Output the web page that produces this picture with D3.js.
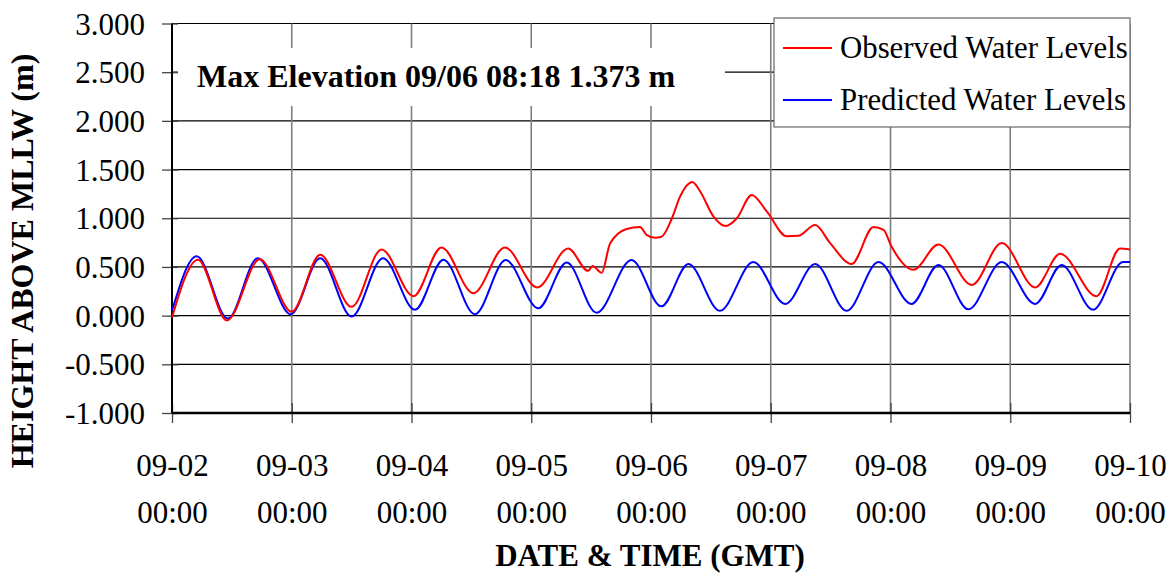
<!DOCTYPE html>
<html lang="en">
<head>
<meta charset="UTF-8">
<title>Water Levels</title>
<script src="https://cdn.jsdelivr.net/npm/d3@7"></script>
<style>
  body { margin: 0; background: #fff; }
  svg { display: block; font-family: "Liberation Serif", "Times New Roman", serif; }
</style>
</head>
<body>
<div id="chart"></div>
<script>
// hours after 09-02 00:00 GMT
const predHours = [0, 4.95, 11.2, 17.2, 23.8, 29.7, 36.0, 42.3, 48.7, 54.4, 60.7, 66.9, 73.4, 79.1, 85.1,
  92.1, 98.1, 103.5, 109.8, 116.5, 122.9, 128.9, 135.2, 141.6, 148.2, 153.6, 159.6, 166.3, 173.0,
  178.3, 184.6, 190.6, 192];
const predLevels = [0.05, 0.61, -0.03, 0.59, 0.015, 0.59, -0.01, 0.59, 0.06, 0.575, 0.015, 0.57, 0.075,
  0.545, 0.03, 0.57, 0.095, 0.53, 0.05, 0.55, 0.12, 0.53, 0.05, 0.55, 0.12, 0.52, 0.065, 0.55, 0.12,
  0.52, 0.06, 0.55, 0.55];

const obsHours = [0, 5.2, 11.0, 17.6, 24.0, 29.7, 36.0, 42.0, 48.4, 54.0, 60.4, 66.7, 73.2, 79.4, 83.4,
  84.3, 86.1, 87.8, 91.1, 93.8, 95.1, 96.8, 98.1, 100.2, 101.8, 104.3, 105.8, 108.5, 111.0, 113.2,
  116.2, 119.2, 123.2, 125.5, 128.9, 131.9, 136.2, 140.6, 142.6, 144.2, 148.6, 153.6, 160.3, 166.3,
  173.0, 178.0, 185.3, 190.0, 192];
const obsLevels = [-0.02, 0.575, -0.05, 0.58, 0.04, 0.625, 0.09, 0.68, 0.2, 0.7, 0.23, 0.7, 0.29, 0.69,
  0.46, 0.51, 0.44, 0.74, 0.89, 0.91, 0.83, 0.8, 0.81, 1.0, 1.22, 1.373, 1.28, 1.02, 0.92, 1.0, 1.24,
  1.07, 0.815, 0.82, 0.93, 0.745, 0.53, 0.91, 0.88, 0.71, 0.47, 0.73, 0.315, 0.745, 0.29, 0.635, 0.2,
  0.69, 0.68];

const yTicks = [-1, -0.5, 0, 0.5, 1, 1.5, 2, 2.5, 3];
const legendLabels = ["Observed Water Levels", "Predicted Water Levels"];
const seriesColors = ["#ff0000", "#0000ff"];
const maxNote = "Max Elevation 09/06 08:18 1.373 m";

const W = 1169, H = 573;
const m = { left: 172, right: 1130, top: 23.5, bottom: 413 };
const t0 = Date.UTC(2000, 8, 2);
const toDate = h => new Date(t0 + h * 3600e3);

const svg = d3.select("#chart").append("svg")
  .attr("width", W).attr("height", H);

const x = d3.scaleUtc()
  .domain([toDate(0), toDate(192)])
  .range([m.left, m.right]);
const y = d3.scaleLinear()
  .domain([-1, 3])
  .range([m.bottom, m.top]);

const days = d3.utcDay.range(toDate(0), toDate(193));

// grid
svg.append("g").selectAll("line")
  .data(yTicks.filter(d => d > -1))
  .join("line")
  .attr("x1", m.left).attr("x2", m.right)
  .attr("y1", d => y(d)).attr("y2", d => y(d))
  .attr("stroke", "#000").attr("stroke-width", 1.2);

svg.append("g").selectAll("line")
  .data(days.slice(1))
  .join("line")
  .attr("x1", d => x(d)).attr("x2", d => x(d))
  .attr("y1", m.top).attr("y2", m.bottom)
  .attr("stroke", "#7f7f7f").attr("stroke-width", 1.6);

// axes
const yAxis = svg.append("g")
  .attr("transform", `translate(${m.left},0)`)
  .call(d3.axisLeft(y).tickValues(yTicks).tickSize(10).tickPadding(17)
    .tickFormat(d => d.toFixed(3)));
yAxis.select(".domain").remove();
yAxis.selectAll(".tick line").attr("x1", 6).attr("stroke", "#444").attr("stroke-width", 1.3);
yAxis.selectAll(".tick text")
  .attr("font-family", "Liberation Serif, Times New Roman, serif")
  .attr("font-size", 31).attr("fill", "#000").attr("dy", "0.34em");

const xAxis = svg.append("g")
  .attr("transform", `translate(0,${m.bottom})`)
  .call(d3.axisBottom(x).tickValues(days).tickSize(10).tickFormat(""));
xAxis.select(".domain").remove();
xAxis.selectAll(".tick line").attr("y1", -10).attr("stroke", "#444").attr("stroke-width", 1.3);
const fmtDay = d3.utcFormat("%m-%d"), fmtTime = d3.utcFormat("%H:%M");
xAxis.selectAll(".tick").each(function(d) {
  const g = d3.select(this);
  g.append("text").attr("y", 63).text(fmtDay(d));
  g.append("text").attr("y", 110).text(fmtTime(d));
});
xAxis.selectAll(".tick text")
  .attr("font-family", "Liberation Serif, Times New Roman, serif")
  .attr("font-size", 31).attr("fill", "#000").attr("text-anchor", "middle");

svg.append("line")
  .attr("x1", m.left).attr("x2", m.left).attr("y1", m.top).attr("y2", m.bottom)
  .attr("stroke", "#000").attr("stroke-width", 2);
svg.append("line")
  .attr("x1", m.left).attr("x2", m.right).attr("y1", m.bottom).attr("y2", m.bottom)
  .attr("stroke", "#000").attr("stroke-width", 2.5);

// series
const line = d3.line()
  .x(d => x(toDate(d[0])))
  .y(d => y(d[1]))
  .curve(d3.curveMonotoneX);

svg.append("path")
  .datum(predHours.map((h, i) => [h, predLevels[i]]))
  .attr("d", line).attr("fill", "none")
  .attr("stroke", seriesColors[1]).attr("stroke-width", 2);
svg.append("path")
  .datum(obsHours.map((h, i) => [h, obsLevels[i]]))
  .attr("d", line).attr("fill", "none")
  .attr("stroke", seriesColors[0]).attr("stroke-width", 2);

// max note
svg.append("rect")
  .attr("x", 178).attr("y", 48).attr("width", 547).attr("height", 58)
  .attr("fill", "#fff");
svg.append("text")
  .attr("x", 197).attr("y", 87)
  .attr("font-size", 32).attr("font-weight", "bold")
  .text(maxNote);

// legend
const lg = svg.append("g").attr("transform", "translate(774,18)");
lg.append("rect")
  .attr("width", 356).attr("height", 109)
  .attr("fill", "#fff").attr("stroke", "#666").attr("stroke-width", 1.2);
legendLabels.forEach((lab, i) => {
  const yy = 30 + i * 52;
  lg.append("line")
    .attr("x1", 9).attr("x2", 58).attr("y1", yy).attr("y2", yy)
    .attr("stroke", seriesColors[i]).attr("stroke-width", 2);
  lg.append("text")
    .attr("x", 66).attr("y", yy + 10)
    .attr("font-size", 30.8)
    .text(lab);
});

// axis titles
svg.append("text")
  .attr("x", 650).attr("y", 566)
  .attr("text-anchor", "middle")
  .attr("font-size", 31).attr("font-weight", "bold")
  .text("DATE & TIME (GMT)");
svg.append("text")
  .attr("transform", "translate(33,261) rotate(-90)")
  .attr("text-anchor", "middle")
  .attr("font-size", 32).attr("font-weight", "bold")
  .text("HEIGHT ABOVE MLLW (m)");
</script>
</body>
</html>
